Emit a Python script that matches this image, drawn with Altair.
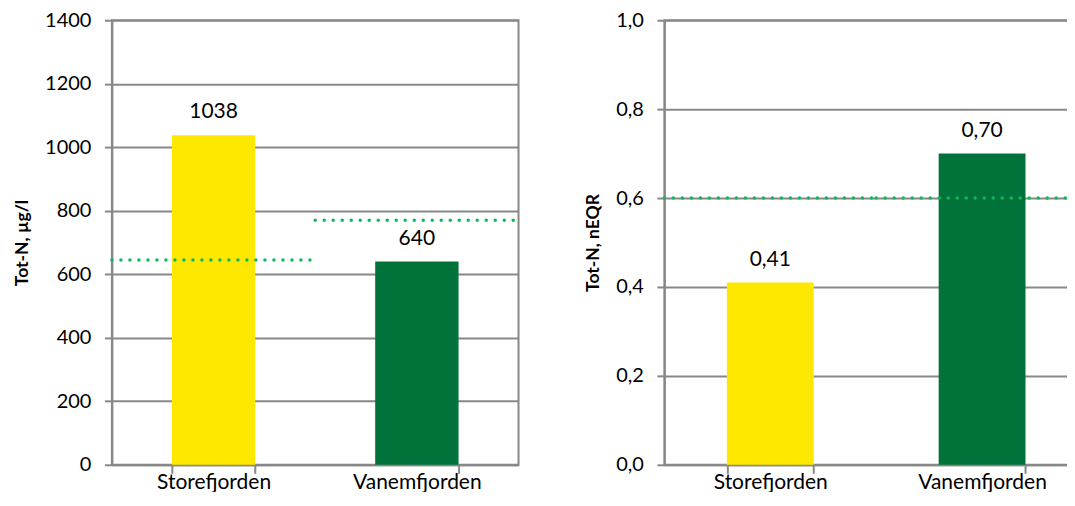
import altair as alt
import pandas as pd

# ---- data ----
categories = ["Storefjorden", "Vanemfjorden"]
tot_n_ugl = [1038, 640]
tot_n_neqr = [0.41, 0.70]
limit_ugl = [645, 770]
limit_neqr = [0.60, 0.60]
bar_colors = ["#FFE800", "#00723A"]
ticks_left = [0, 200, 400, 600, 800, 1000, 1200, 1400]
ticks_right = [0.0, 0.2, 0.4, 0.6, 0.8, 1.0]
title_left = "Tot-N, µg/l"
title_right = "Tot-N, nEQR"

FONT = "Lato"
GRID = "#888888"
DOT = "#10B858"

def make_panel(values, limits, ticks, ytitle, label_fmt, axis_expr, title_pad):
    df = pd.DataFrame({"cat": categories, "value": values, "color": bar_colors})
    df_rule = pd.DataFrame({
        "start": list(range(len(categories))),
        "end": [i + 1 for i in range(len(categories))],
        "limit": limits,
    })
    x = alt.X("cat:N", sort=categories,
              scale=alt.Scale(paddingInner=0.59, paddingOuter=0.295),
              axis=alt.Axis(title=None, labelAngle=0, tickBand="extent", tickSize=8.5,
                            labelPadding=-2, labelFontSize=21, grid=False,
                            domainColor=GRID, tickColor=GRID, domainWidth=2, tickWidth=2))
    y = alt.Y("value:Q", scale=alt.Scale(domain=[ticks[0], ticks[-1]], nice=False),
              axis=alt.Axis(values=ticks, title=ytitle, labelExpr=axis_expr,
                            tickSize=7.5, labelPadding=13.5, labelFontSize=20,
                            titleFontSize=17.5, titleFontWeight="bold", titlePadding=title_pad,
                            grid=True, gridColor=GRID, gridWidth=2,
                            domainColor=GRID, tickColor=GRID, domainWidth=2, tickWidth=2))
    base = alt.Chart(df).encode(x=x, y=y)
    bars = base.mark_bar().encode(color=alt.Color("color:N", scale=None))
    text = base.transform_calculate(
        lbl=label_fmt
    ).mark_text(dy=-23, baseline="middle", fontSize=21, font=FONT, color="#000").encode(
        text="lbl:N")
    rules = alt.Chart(df_rule).mark_rule(strokeDash=[0.01, 9], strokeCap="round",
                                         strokeWidth=3.5, color=DOT).encode(
        x=alt.X("start:Q", scale=alt.Scale(domain=[0, len(categories)], nice=False), axis=None),
        x2="end:Q",
        y=alt.Y("limit:Q"))
    return alt.layer(alt.layer(bars, text), rules).resolve_scale(x="independent")

left = make_panel(tot_n_ugl, limit_ugl, ticks_left, title_left,
                  "format(datum.value, 'd')", "format(datum.value, 'd')", 13).properties(width=407, height=445)
right = make_panel(tot_n_neqr, limit_neqr, ticks_right, title_right,
                   "replace(format(datum.value, '.2f'), '.', ',')",
                   "replace(format(datum.value, '.1f'), '.', ',')", 13.5).properties(width=424, height=445)

chart = alt.hconcat(left, right, spacing=61).properties(
    padding={"left": 4, "top": 1, "right": -24, "bottom": -2}
).configure_view(stroke=GRID, strokeWidth=2).configure_axis(
    labelFont=FONT, titleFont=FONT, labelColor="#000", titleColor="#000"
)

chart.save("out.html", embed_options={"renderer": "svg", "actions": False})
